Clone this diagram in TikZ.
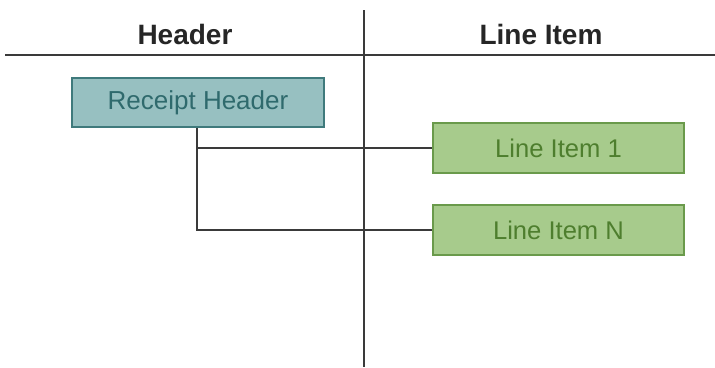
\documentclass[tikz,border=0pt]{standalone}
\usepackage{fontspec}
\setmainfont{Liberation Sans}
\definecolor{hdrfill}{HTML}{97C0C1}
\definecolor{hdrdraw}{HTML}{3F7A7C}
\definecolor{hdrtext}{HTML}{2F6A6D}
\definecolor{itfill}{HTML}{A7CB8C}
\definecolor{itdraw}{HTML}{6A9A4B}
\definecolor{ittext}{HTML}{4E7E2E}
\definecolor{ln}{HTML}{3A3A3A}
\begin{document}
\begin{tikzpicture}[x=1pt,y=-1pt,
  hdrbox/.style={draw=hdrdraw,fill=hdrfill,line width=1.5pt,text=hdrtext,minimum width=252pt,minimum height=49pt,inner sep=0pt,font=\fontsize{26}{30}\selectfont},
  itembox/.style={draw=itdraw,fill=itfill,line width=1.5pt,text=ittext,minimum width=251pt,minimum height=50pt,inner sep=0pt,font=\fontsize{25.6}{30}\selectfont},
  coltitle/.style={font=\bfseries\fontsize{28}{32}\selectfont,text=black!85},
  rule/.style={draw=ln,line width=1.3pt},
  conn/.style={draw=ln,line width=1.3pt}]
\useasboundingbox (0,0) rectangle (715,367);
\coordinate (hl) at (5,55);
\coordinate (hr) at (715,55);
\coordinate (vt) at (364,10);
\coordinate (vb) at (364,367);
\path[rule] (hl) -- (hr);
\path[rule] (vt) -- (vb);
\node[coltitle] (th) at (185,34) {Header};
\node[coltitle] (tl) at (541,34) {Line Item};
\node[hdrbox] (rh) at (198,102.5) {Receipt Header};
\node[itembox] (l1) at (558.5,148) {Line Item 1};
\node[itembox] (ln) at (558.5,230) {Line Item N};
\coordinate (j1) at (197,148);
\path[conn] (rh.south -| j1) |- (ln.west);
\path[conn] (j1) -- (l1.west);
\end{tikzpicture}
\end{document}
